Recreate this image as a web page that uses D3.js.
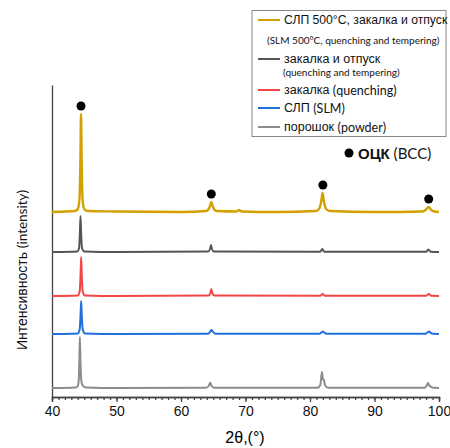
<!DOCTYPE html>
<html>
<head>
<meta charset="utf-8">
<script src="https://cdn.jsdelivr.net/npm/d3@7"></script>
<style>
body{margin:0;background:#fff;}
svg{display:block;}
.tick text{font-family:"Liberation Sans",Arial,sans-serif;font-size:14px;fill:#111;}
.ru{font-family:"Liberation Sans",Arial,sans-serif;fill:#111;}
.en{font-family:Lato,"Open Sans",sans-serif;fill:#111;}
</style>
</head>
<body>
<svg width="450" height="448"></svg>
<script>
// XRD patterns, [2theta, intensity above own baseline], arbitrary units
var powder = [[40,0],[43.7,0.5],[44.0,2],[44.15,8],[44.25,30],[44.32,51],[44.42,25],[44.55,7],[44.8,2],[45.3,0.5],[50,0],
  [63.9,0.3],[64.3,2],[64.52,5.5],[64.75,2],[65.1,0.3],[81.2,0.3],[81.6,3],[81.85,16],[82.0,9],[82.15,8],[82.35,2.5],[82.8,0.3],
  [97.8,0.3],[98.1,2.5],[98.28,5],[98.5,2.5],[98.7,1.5],[99.1,0.2],[100,0]];
var slm = [[40,0],[44.0,0.5],[44.3,5],[44.42,18],[44.52,33],[44.62,18],[44.75,5],[45.1,0.5],[50,0],
  [64.2,0.3],[64.55,2.5],[64.72,4],[64.9,2.5],[65.3,0.3],[81.5,0.3],[81.85,2],[82.0,2.5],[82.2,1.5],[82.6,0.3],
  [97.9,0.3],[98.3,2],[98.45,2.5],[98.7,1.2],[99.1,0.2],[100,0]];
var quench = [[40,0],[44.0,0.5],[44.3,5],[44.42,20],[44.52,39],[44.62,20],[44.75,5],[45.1,0.5],[50,0],
  [64.3,0.5],[64.55,3],[64.7,7],[64.85,3],[65.2,0.5],[81.6,0.2],[81.95,2],[82.3,0.2],[98.0,0.2],[98.4,2],[98.8,0.2],[100,0]];
var quenchTemper = [[40,0],[43.9,0.5],[44.2,4],[44.32,18],[44.42,36],[44.52,18],[44.65,4],[45.0,0.5],[50,0],
  [64.2,0.5],[64.5,3],[64.65,7],[64.8,3],[65.1,0.5],[81.6,0.3],[81.9,3],[82.2,0.3],[98.0,0.3],[98.35,2.5],[98.7,0.3],[100,0]];
var slm500 = [[40,0],[43.6,1],[44.0,3],[44.25,12],[44.4,50],[44.5,98],[44.6,50],[44.75,12],[45.0,3],[45.5,1],[50,0.5],[60,0],
  [63.9,1],[64.3,3],[64.55,7],[64.7,10],[64.85,7],[65.1,3],[65.5,1],[68.6,0.5],[69,2],[69.4,0.5],[75,0],
  [80.9,1],[81.4,3],[81.75,11],[81.95,19],[82.15,11],[82.5,3],[83.1,1],[90,0],[97.4,0.5],[98.0,2.5],[98.4,5],[98.8,2],[99.3,0.5],[100,0]];

// vertical offsets of each pattern (same units)
var offsets = [0, 54, 92, 136, 176];
var patterns = [powder, slm, quench, quenchTemper, slm500];
var colors = ["#8c8c8c", "#2270dd", "#f24646", "#555555", "#d2a000"];

// BCC reflections marked on top pattern
var bccPeaks = [44.5, 64.7, 82.0, 98.4];

var xTicks = [40, 50, 60, 70, 80, 90, 100];

// legend, top to bottom (russian part, english part, english second line)
var legendRu = ["СЛП 500°C, закалка и отпуск", "закалка и отпуск", "закалка ", "СЛП  ", "порошок "];
var legendEn = ["", "", "(quenching)", "(SLM)", "(powder)"];
var legendSub = ["(SLM 500°C, quenching and tempering)", "(quenching and tempering)", "", "", ""];
var legendColors = ["#d2a000", "#555555", "#f24646", "#2270dd", "#8c8c8c"];

var svg = d3.select("svg");

var xScale = d3.scaleLinear().domain([40, 100]).range([52, 439]);
var yScale = d3.scaleLinear().domain([-9, 303]).range([397, 85]);

// axes
var xAxis = d3.axisBottom(xScale).tickValues(xTicks).tickSize(5).tickPadding(4).tickFormat(d3.format("d"));
var xMinor = d3.axisBottom(xScale).ticks(60).tickSize(3).tickFormat("");

var gx = svg.append("g").attr("transform", "translate(0," + yScale(-9) + ")").call(xAxis);
var gm = svg.append("g").attr("transform", "translate(0," + yScale(-9) + ")").call(xMinor);
[gx, gm].forEach(function(g){
  g.selectAll("path,line").attr("stroke", "#444").attr("stroke-width", 1.3);
});

var gy = svg.append("g").attr("transform", "translate(" + xScale(40) + ",0)")
  .call(d3.axisLeft(yScale).tickValues([]).tickSizeOuter(0));
gy.select("path").attr("stroke", "#444").attr("stroke-width", 1.3);

// patterns
var line = d3.line()
  .x(function(d){ return xScale(d[0]); })
  .y(function(d){ return yScale(d[1]); })
  .curve(d3.curveMonotoneX);

patterns.forEach(function(p, i){
  var shifted = p.map(function(d){ return [d[0], d[1] + offsets[i]]; });
  svg.append("path")
    .datum(shifted)
    .attr("d", line)
    .attr("fill", "none")
    .attr("stroke", colors[i])
    .attr("stroke-width", i == 4 ? 2.4 : 2)
    .attr("stroke-linejoin", "round");
});

// BCC markers above the top pattern
svg.selectAll(".bcc")
  .data(bccPeaks)
  .enter()
  .append("circle")
  .attr("cx", function(d){ return xScale(d); })
  .attr("cy", function(d){
    var top = d3.max(slm500.filter(function(p){ return Math.abs(p[0] - d) < 0.4; }), function(p){ return p[1]; });
    return yScale(top + offsets[4]) - 8;
  })
  .attr("r", 4.5)
  .attr("fill", "#000");

// labels
svg.append("text")
  .attr("x", 245).attr("y", 437)
  .attr("text-anchor", "middle")
  .attr("dominant-baseline", "central")
  .style("font-family", "Liberation Sans, Arial, sans-serif")
  .style("font-size", "16px")
  .text("2θ,(°)");

var yl = svg.append("text")
  .attr("transform", "translate(22,270) rotate(-90)")
  .attr("text-anchor", "middle")
  .attr("dominant-baseline", "central");
yl.append("tspan").attr("class", "ru").style("font-size", "14px").text("Интенсивность  ");
yl.append("tspan").attr("class", "en").style("font-size", "13.5px").text("(intensity)");

// legend box
svg.append("rect")
  .attr("x", 252).attr("y", 10.5).attr("width", 194).attr("height", 126)
  .attr("fill", "#fff").attr("stroke", "#888").attr("stroke-width", 1);

var mainY = [20, 59, 90, 108, 127];
var subY = [40, 72, 0, 0, 0];
var subX = [267, 283, 0, 0, 0];

legendRu.forEach(function(t, i){
  svg.append("line")
    .attr("x1", 258).attr("x2", 280)
    .attr("y1", mainY[i]).attr("y2", mainY[i])
    .attr("stroke", legendColors[i]).attr("stroke-width", 2);
  var tx = svg.append("text")
    .attr("x", 284).attr("y", mainY[i])
    .attr("dominant-baseline", "central");
  tx.append("tspan").attr("class", "ru").style("font-size", i == 0 ? "12.2px" : "12.5px").text(t);
  if (legendEn[i] != "") {
    tx.append("tspan").attr("class", "en").style("font-size", "12.5px").text(legendEn[i]);
  }
  if (legendSub[i] != "") {
    svg.append("text").attr("class", "en")
      .attr("x", subX[i]).attr("y", subY[i])
      .attr("dominant-baseline", "central")
      .style("font-size", "10px")
      .text(legendSub[i]);
  }
});

// BCC key
svg.append("circle").attr("cx", 349).attr("cy", 153).attr("r", 4.5).attr("fill", "#000");
var bk = svg.append("text")
  .attr("x", 358).attr("y", 153)
  .attr("dominant-baseline", "central");
bk.append("tspan").attr("class", "ru").style("font-weight", "bold").style("font-size", "15px").text("ОЦК");
bk.append("tspan").attr("class", "en").style("font-size", "15px").text(" (BCC)");
</script>
</body>
</html>
